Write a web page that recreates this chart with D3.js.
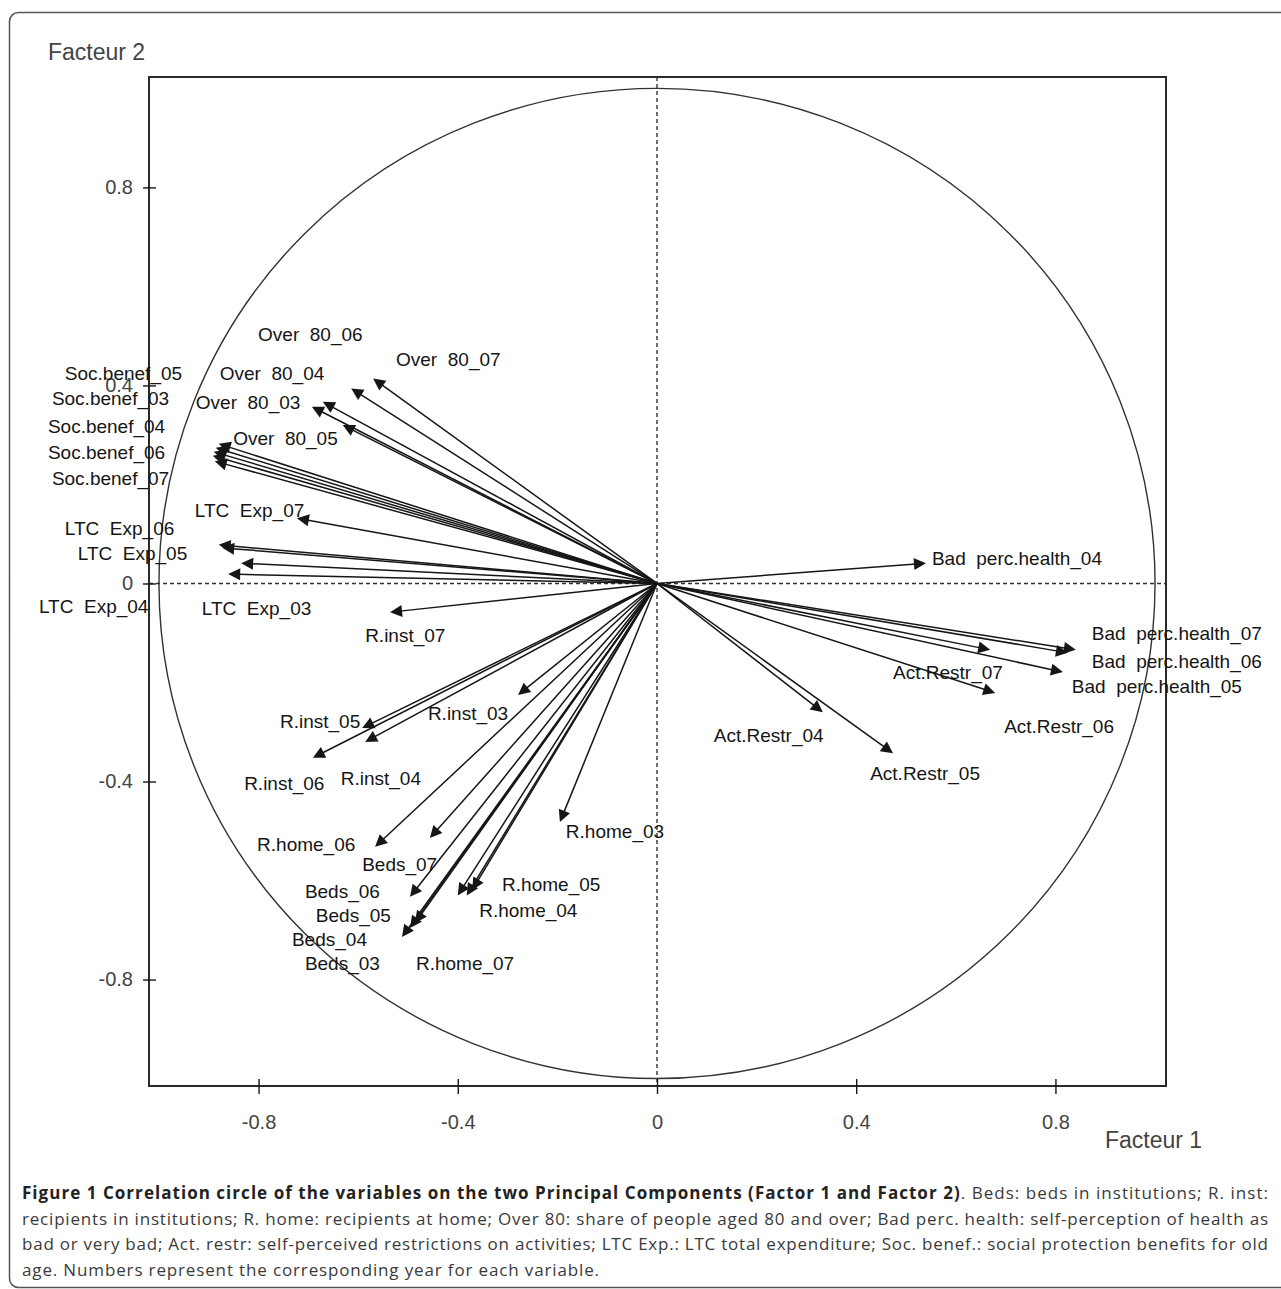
<!DOCTYPE html>
<html>
<head>
<meta charset="utf-8">
<script src="https://cdn.jsdelivr.net/npm/d3@7"></script>
<style>
  html, body { margin: 0; padding: 0; background: #fff; }
  svg { display: block; }
</style>
</head>
<body>
<svg id="chart" width="1281" height="1289"></svg>
<script>
// ---------------- DATA ----------------
const variables = [
  "Over  80_07","Over  80_06","Over  80_04","Over  80_03","Over  80_05",
  "Soc.benef_05","Soc.benef_03","Soc.benef_04","Soc.benef_06","Soc.benef_07",
  "LTC  Exp_07","LTC  Exp_06","LTC  Exp_05","LTC  Exp_03","LTC  Exp_04",
  "R.inst_07","R.inst_03","R.inst_05","R.inst_04","R.inst_06",
  "R.home_03","R.home_06","Beds_07","Beds_06","Beds_05","Beds_04","Beds_03",
  "R.home_05","R.home_04","R.home_07",
  "Bad  perc.health_04","Bad  perc.health_07","Bad  perc.health_06","Bad  perc.health_05",
  "Act.Restr_07","Act.Restr_06","Act.Restr_04","Act.Restr_05"
];
// Factor 1 coordinate (correlation) of each variable
const factor1 = [
  -0.570,-0.614,-0.671,-0.693,-0.631,
  -0.880,-0.886,-0.890,-0.892,-0.888,
  -0.723,-0.880,-0.873,-0.835,-0.861,
  -0.536,-0.279,-0.592,-0.586,-0.691,
  -0.195,-0.566,-0.456,-0.496,-0.486,-0.496,-0.512,
  -0.371,-0.382,-0.400,
  0.540,0.841,0.825,0.815,
  0.669,0.679,0.333,0.474
];
// Factor 2 coordinate (correlation) of each variable
const factor2 = [
  0.414,0.394,0.367,0.357,0.320,
  0.282,0.274,0.266,0.258,0.247,
  0.132,0.078,0.072,0.041,0.019,
  -0.058,-0.225,-0.292,-0.320,-0.352,
  -0.482,-0.532,-0.514,-0.633,-0.686,-0.696,-0.714,
  -0.619,-0.630,-0.630,
  0.041,-0.134,-0.140,-0.179,
  -0.134,-0.221,-0.260,-0.343
];
// Label anchor (left edge, vertical centre) in factor units, as placed in the figure
const labelF1 = [
  -0.524,-0.801,-0.878,-0.926,-0.851,
  -1.189,-1.215,-1.223,-1.223,-1.215,
  -0.928,-1.189,-1.163,-0.914,-1.241,
  -0.586,-0.460,-0.757,-0.635,-0.829,
  -0.183,-0.803,-0.592,-0.707,-0.685,-0.733,-0.707,
  -0.311,-0.357,-0.484,
  0.552,0.873,0.873,0.833,
  0.474,0.697,0.114,0.428
];
const labelF2 = [
  0.454,0.504,0.425,0.367,0.294,
  0.425,0.375,0.318,0.266,0.213,
  0.149,0.112,0.062,-0.049,-0.045,
  -0.104,-0.262,-0.278,-0.393,-0.403,
  -0.500,-0.526,-0.567,-0.621,-0.670,-0.718,-0.766,
  -0.607,-0.660,-0.766,
  0.052,-0.100,-0.157,-0.207,
  -0.179,-0.288,-0.306,-0.383
];
const xTickValues = [-0.8,-0.4,0,0.4,0.8];
const xTickLabels = ["-0.8","-0.4","0","0.4","0.8"];
const yTickValues = [0.8,0.4,0,-0.4,-0.8];
const yTickLabels = ["0.8","0.4","0","-0.4","-0.8"];
const xAxisTitle = "Facteur 1";
const yAxisTitle = "Facteur 2";
const captionBold = "Figure 1 Correlation circle of the variables on the two Principal Components (Factor 1 and Factor 2)";
const captionLines = [
  ". Beds: beds in institutions; R. inst:",
  "recipients in institutions; R. home: recipients at home; Over 80: share of people aged 80 and over; Bad perc. health: self-perception of health as",
  "bad or very bad; Act. restr: self-perceived restrictions on activities; LTC Exp.: LTC total expenditure; Soc. benef.: social protection benefits for old",
  "age. Numbers represent the corresponding year for each variable."
];

// ---------------- LAYOUT ----------------
const svg = d3.select("#chart");
const frame = { left: 149, right: 1166, top: 77, bottom: 1086 };
const x = d3.scaleLinear().domain([-1.020, 1.022]).range([frame.left, frame.right]);
const y = d3.scaleLinear().domain([-1.015, 1.023]).range([frame.bottom, frame.top]);
const ink = "#161616";
const chartFont = "'Liberation Sans', Arial, sans-serif";

// card border
svg.append("rect")
  .attr("x", 9.5).attr("y", 12.5).attr("width", 1320).attr("height", 1275)
  .attr("rx", 9).attr("ry", 9)
  .attr("fill", "none").attr("stroke", "#555").attr("stroke-width", 1.5);

// correlation circle (radius 1)
svg.append("ellipse")
  .attr("cx", x(0)).attr("cy", y(0))
  .attr("rx", x(1) - x(0)).attr("ry", y(0) - y(1))
  .attr("fill", "none").attr("stroke", "#333").attr("stroke-width", 1.4);

// dashed zero lines
svg.append("line")
  .attr("x1", frame.left).attr("x2", frame.right)
  .attr("y1", y(0)).attr("y2", y(0))
  .attr("stroke", "#333").attr("stroke-width", 1.4).attr("stroke-dasharray", "4,3");
svg.append("line")
  .attr("x1", x(0)).attr("x2", x(0))
  .attr("y1", frame.top).attr("y2", frame.bottom)
  .attr("stroke", "#333").attr("stroke-width", 1.4).attr("stroke-dasharray", "4,3");

// frame
svg.append("rect")
  .attr("x", frame.left).attr("y", frame.top)
  .attr("width", frame.right - frame.left).attr("height", frame.bottom - frame.top)
  .attr("fill", "none").attr("stroke", "#2a2a2a").attr("stroke-width", 2);

// axes
const xAxis = d3.axisBottom(x).tickValues(xTickValues)
  .tickFormat((d, i) => xTickLabels[i]).tickSizeInner(7).tickSizeOuter(0).tickPadding(22);
const gx = svg.append("g").attr("transform", `translate(0,${frame.bottom})`).call(xAxis);
gx.select(".domain").remove();
gx.selectAll(".tick line").attr("y1", -7).attr("y2", 8).attr("stroke", ink).attr("stroke-width", 1.4);
gx.selectAll(".tick text").attr("font-family", chartFont).attr("font-size", 20).attr("fill", "#444");

const yAxis = d3.axisLeft(y).tickValues(yTickValues)
  .tickFormat((d, i) => yTickLabels[i]).tickSizeInner(6).tickSizeOuter(0).tickPadding(10);
const gy = svg.append("g").attr("transform", `translate(${frame.left},0)`).call(yAxis);
gy.select(".domain").remove();
gy.selectAll(".tick line").attr("x1", -6).attr("x2", 7).attr("stroke", ink).attr("stroke-width", 1.4);
gy.selectAll(".tick text").attr("font-family", chartFont).attr("font-size", 20).attr("fill", "#444");

// axis titles
svg.append("text").attr("x", 48).attr("y", 60)
  .attr("font-family", chartFont).attr("font-size", 23).attr("fill", "#444").text(yAxisTitle);
svg.append("text").attr("x", 1105).attr("y", 1148)
  .attr("font-family", chartFont).attr("font-size", 23).attr("fill", "#444").text(xAxisTitle);

// arrows
const data = variables.map((name, i) => ({
  name, f1: factor1[i], f2: factor2[i], l1: labelF1[i], l2: labelF2[i]
}));
const gArr = svg.append("g");
const headLen = 12, headHalf = 6;
data.forEach(d => {
  const x0 = x(0), y0 = y(0), x1 = x(d.f1), y1 = y(d.f2);
  const dx = x1 - x0, dy = y1 - y0, L = Math.hypot(dx, dy);
  const ux = dx / L, uy = dy / L;
  const bx = x1 - ux * headLen, by = y1 - uy * headLen;
  gArr.append("line")
    .attr("x1", x0).attr("y1", y0).attr("x2", bx + ux * 2).attr("y2", by + uy * 2)
    .attr("stroke", ink).attr("stroke-width", 1.5);
  gArr.append("path")
    .attr("d", `M${x1},${y1}L${bx - uy * headHalf},${by + ux * headHalf}L${bx + uy * headHalf},${by - ux * headHalf}Z`)
    .attr("fill", ink);
});

// variable labels
svg.append("g").selectAll("text").data(data).join("text")
  .attr("x", d => x(d.l1)).attr("y", d => y(d.l2))
  .attr("dy", "0.36em")
  .attr("font-family", chartFont).attr("font-size", 19).attr("fill", "#151515")
  .style("white-space", "pre")
  .text(d => d.name);

// caption
const capFont = "'Open Sans', 'Noto Sans', sans-serif";
const capLeft = 22, capRight = 1268, capBase = 1199, capStep = 25.6;
const capWidths = [capRight - capLeft, capRight - capLeft, capRight - capLeft, 577];
const capG = svg.append("g").attr("font-family", capFont).attr("font-size", 17).attr("fill", "#3a3a3a");
captionLines.forEach((line, i) => {
  const t = capG.append("text").attr("x", capLeft).attr("y", capBase + i * capStep);
  if (i === 0) {
    t.append("tspan").attr("font-weight", "bold").attr("fill", "#222").text(captionBold);
    t.append("tspan").text(line);
  } else {
    t.text(line);
  }
  t.attr("textLength", capWidths[i]).attr("lengthAdjust", "spacing");
});
</script>
</body>
</html>
